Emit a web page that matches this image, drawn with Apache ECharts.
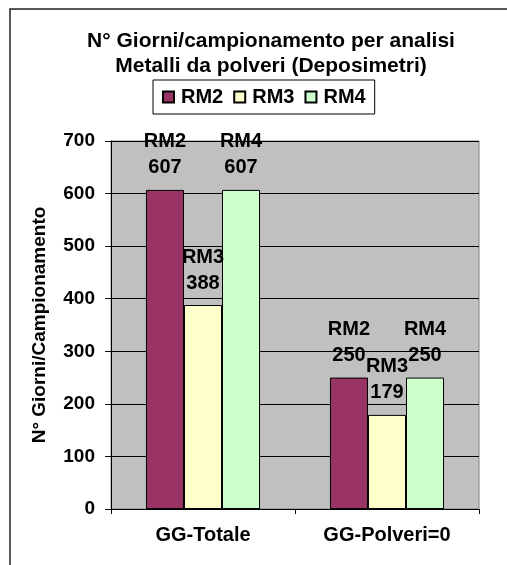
<!DOCTYPE html>
<html>
<head>
<meta charset="utf-8">
<script src="https://cdn.jsdelivr.net/npm/echarts@6/dist/echarts.min.js"></script>
<style>
  html, body { margin: 0; padding: 0; background: #fff; }
  #chart { width: 507px; height: 565px; }
</style>
</head>
<body>
<div id="chart"></div>
<script>
// Sampling days per analysis: dust metals (deposition gauges)
const categories = ['GG-Totale', 'GG-Polveri=0'];
const rm2 = [607, 250];
const rm3 = [388, 179];
const rm4 = [607, 250];
const yTicks = { min: 0, max: 700, interval: 100 };

const FONT = '"Liberation Sans", Arial, sans-serif';

function barSeries(name, data, color) {
  return {
    name: name,
    type: 'bar',
    data: data,
    barGap: '0%',
    barCategoryGap: '38%',
    itemStyle: { color: color, borderColor: '#000', borderWidth: 1 },
    label: {
      show: true,
      position: 'top',
      distance: 9,
      formatter: '{a}\n{c}',
      color: '#000',
      fontFamily: FONT,
      fontWeight: 'bold',
      fontSize: 20,
      lineHeight: 26
    }
  };
}

const chart = echarts.init(document.getElementById('chart'), null, { renderer: 'canvas' });
chart.setOption({
  backgroundColor: '#fff',
  animation: false,
  graphic: [{
    type: 'rect',
    shape: { x: 10, y: 9, width: 620, height: 620 },
    style: { fill: 'none', stroke: '#222', lineWidth: 1.5 },
    silent: true,
    z: -1
  }],
  title: {
    text: 'N° Giorni/campionamento per analisi\nMetalli da polveri (Deposimetri)',
    left: 266,
    top: 24,
    textAlign: 'center',
    textStyle: {
      fontFamily: FONT,
      fontWeight: 'bold',
      fontSize: 21,
      lineHeight: 25,
      color: '#000'
    }
  },
  legend: {
    left: 153,
    top: 80,
    padding: [7, 9, 7, 9],
    itemWidth: 11,
    itemHeight: 11,
    itemGap: 10,
    borderColor: '#000',
    borderWidth: 1,
    icon: 'rect',
    textStyle: {
      fontFamily: FONT,
      fontWeight: 'bold',
      fontSize: 20,
      color: '#000',
      padding: [0, 0, 0, 2]
    },
    data: ['RM2', 'RM3', 'RM4']
  },
  grid: {
    left: 111,
    right: 28,
    top: 141,
    bottom: 56,
    show: true,
    backgroundColor: '#C0C0C0',
    borderColor: '#808080',
    borderWidth: 1
  },
  xAxis: {
    type: 'category',
    data: categories,
    axisLine: { lineStyle: { color: '#000', width: 1 } },
    axisTick: { show: true, length: 5, lineStyle: { color: '#000' } },
    axisLabel: {
      margin: 16,
      color: '#000',
      fontFamily: FONT,
      fontWeight: 'bold',
      fontSize: 20
    }
  },
  yAxis: {
    type: 'value',
    min: yTicks.min,
    max: yTicks.max,
    interval: yTicks.interval,
    name: 'N° Giorni/Campionamento',
    nameLocation: 'middle',
    nameRotate: 90,
    nameGap: 62,
    nameTextStyle: {
      color: '#000',
      fontFamily: FONT,
      fontWeight: 'bold',
      fontSize: 19
    },
    axisLine: { show: true, lineStyle: { color: '#000', width: 1 } },
    axisTick: { show: true, length: 6, lineStyle: { color: '#000' } },
    splitLine: { show: true, lineStyle: { color: '#000', width: 1 } },
    axisLabel: {
      margin: 16,
      color: '#000',
      fontFamily: FONT,
      fontWeight: 'bold',
      fontSize: 19
    }
  },
  series: [
    barSeries('RM2', rm2, '#993366'),
    barSeries('RM3', rm3, '#FFFFCC'),
    barSeries('RM4', rm4, '#CCFFCC')
  ]
});
</script>
</body>
</html>
